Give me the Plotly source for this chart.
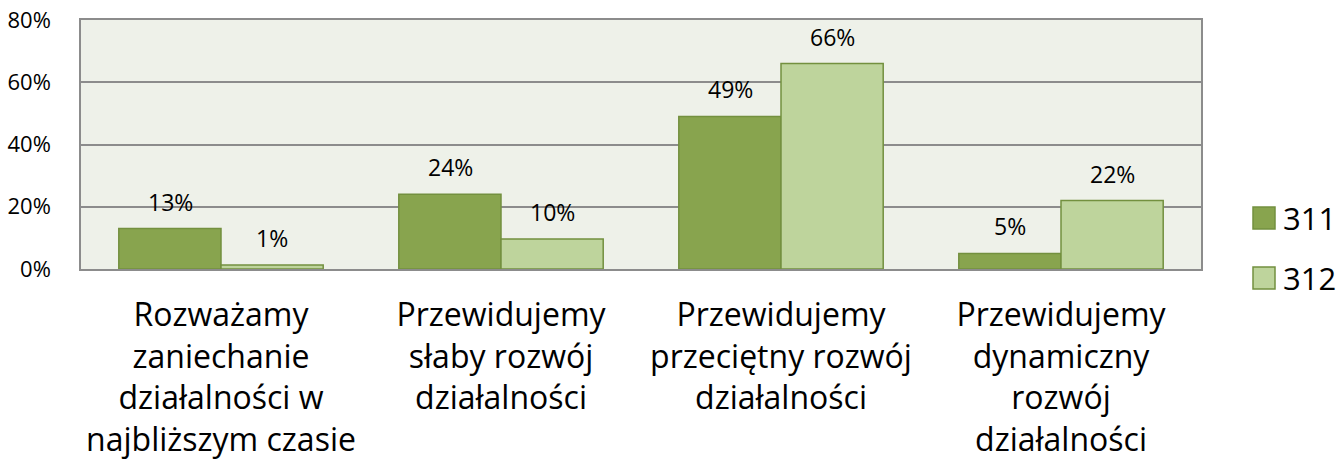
import plotly.graph_objects as go

categories = [
    "Rozważamy<br>zaniechanie<br>działalności w<br>najbliższym czasie",
    "Przewidujemy<br>słaby rozwój<br>działalności",
    "Przewidujemy<br>przeciętny rozwój<br>działalności",
    "Przewidujemy<br>dynamiczny<br>rozwój<br>działalności",
]
series_names = ["311", "312"]
values_311 = [13, 24, 49, 5]
values_312 = [1.3, 9.6, 66, 22]
labels_311 = ["13%", "24%", "49%", "5%"]
labels_312 = ["1%", "10%", "66%", "22%"]
y_ticks = [0, 20, 40, 60, 80]
y_tick_labels = ["0%", "20%", "40%", "60%", "80%"]

colors = ["#88A44E", "#BED49C"]
border = "#73903F"
font_family = "'Open Sans', sans-serif"

# plot area geometry in pixels (for manual legend placement)
L, R, T, B = 81, 142, 20, 202
W, H = 1343, 471
pw, ph = W - L - R, H - T - B

fig = go.Figure()
for name, vals, col in zip(series_names, [values_311, values_312], colors):
    fig.add_trace(go.Bar(
        x=categories, y=vals, name=name, showlegend=False,
        marker=dict(color=col, line=dict(color=border, width=1.5)),
    ))

# data labels above bars
for i, (vals, labs) in enumerate([(values_311, labels_311), (values_312, labels_312)]):
    for j, (v, lab) in enumerate(zip(vals, labs)):
        fig.add_annotation(
            x=categories[j], y=v, text=lab, showarrow=False,
            xref="x", yref="y", yanchor="middle", yshift=27,
            xshift=(-51 if i == 0 else 51),
            font=dict(size=23, color="#000000", family=font_family),
        )

# legend drawn manually (large square markers like the reference)
legend_centers_px = [218, 278]
for name, col, cy in zip(series_names, colors, legend_centers_px):
    y0 = (H - B - (cy + 11)) / ph
    y1 = (H - B - (cy - 11)) / ph
    fig.add_shape(type="rect", xref="paper", yref="paper",
                  x0=(1253 - L) / pw, x1=(1275 - L) / pw, y0=y0, y1=y1,
                  fillcolor=col, line=dict(color=border, width=1.5))
    fig.add_annotation(xref="paper", yref="paper",
                       x=(1281 - L) / pw, y=(H - B - cy) / ph,
                       xanchor="left", yanchor="middle", showarrow=False,
                       text=name, font=dict(size=31, color="#000000", family=font_family))

fig.update_layout(
    width=W, height=H,
    margin=dict(l=L, r=R, t=T, b=B, autoexpand=False),
    paper_bgcolor="white",
    plot_bgcolor="#EEF1E9",
    barmode="group", bargap=0.27, bargroupgap=0,
    font=dict(family=font_family, color="#000000"),
    showlegend=False,
)
fig.update_xaxes(
    showline=True, linecolor="#8C8C8C", linewidth=1.5, mirror=True,
    tickfont=dict(size=32), ticks="", showgrid=False, automargin=False,
    ticklabelstandoff=17,
)
fig.update_yaxes(
    range=[0, 80], tickvals=y_ticks, ticktext=y_tick_labels,
    tickfont=dict(size=22), showgrid=True, gridcolor="#8C8C8C", gridwidth=1.5,
    showline=True, linecolor="#8C8C8C", linewidth=1.5, mirror=True,
    ticks="", ticklabelstandoff=24, zeroline=False, automargin=False,
)

fig.write_html(
    "out.html",
    config={"displayModeBar": False},
    post_script="document.body.style.margin='0';document.body.style.overflow='hidden';",
)
